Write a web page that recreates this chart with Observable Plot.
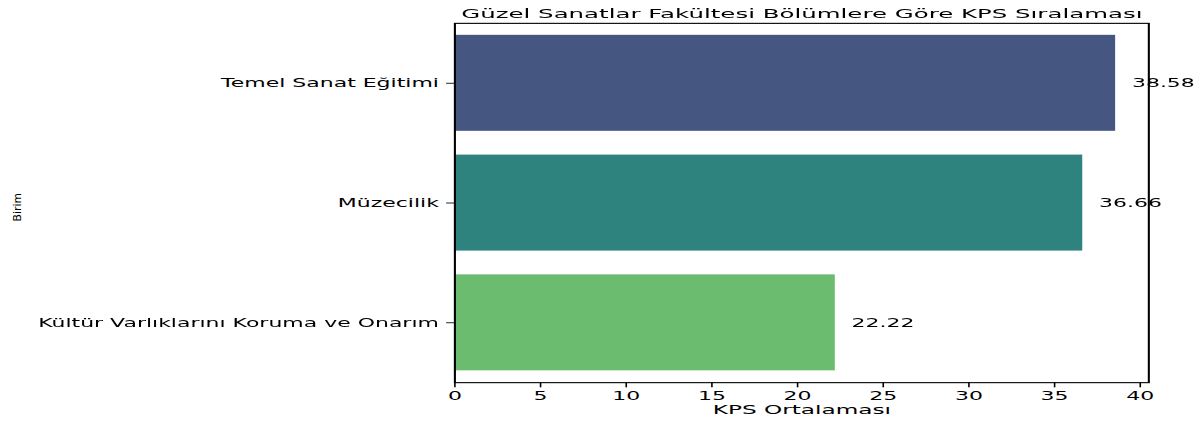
<!DOCTYPE html>
<html><head><meta charset="utf-8">
<script src="https://cdn.jsdelivr.net/npm/d3@7"></script>
<script src="https://cdn.jsdelivr.net/npm/@observablehq/plot@0.6"></script>
<style>
html,body{margin:0;padding:0;background:#fff;overflow:hidden}
#chart{width:748px;height:498px;transform:scale(1.59893,0.84940);transform-origin:0 0}
</style></head><body><div id="chart"></div>
<script>
const units = ["Temel Sanat Eğitimi", "Müzecilik", "Kültür Varlıklarını Koruma ve Onarım"];
const kpsValues = [38.58, 36.66, 22.22];
const barColors = ["#455681", "#2f837f", "#6bbc6e"];
const xTicks = [0, 5, 10, 15, 20, 25, 30, 35, 40];
const title = "Güzel Sanatlar Fakültesi Bölümlere Göre KPS Sıralaması";
const xLabel = "KPS Ortalaması";
const yLabel = "Birim";

const SX = 1.59893, SY = 0.84940;
const data = units.map((u, i) => ({unit: u, value: kpsValues[i], label: kpsValues[i].toFixed(2)}));

const chart = Plot.plot({
  width: 748, height: 498,
  marginTop: 27, marginBottom: 48, marginLeft: 284, marginRight: 30,
  style: {fontFamily: "'DejaVu Sans', sans-serif", fontSize: "13.75px", color: "#000", background: "#fff", overflow: "visible"},
  x: {domain: [0, 40.5], ticks: xTicks, tickSize: 6, tickPadding: 4.5, label: null},
  y: {domain: units, paddingInner: 0.2, paddingOuter: 0.1, tickSize: 5, tickPadding: 5, label: null},
  color: {domain: units, range: barColors},
  marks: [
    Plot.barX(data, {x: "value", y: "unit", fill: "unit"}),
    Plot.text(data, {x: "value", y: "unit", text: "label", dx: 10, textAnchor: "start", fontSize: 13.75}),
    Plot.frame({stroke: "#000", strokeWidth: 1.3}),
    Plot.text([title], {frameAnchor: "top", dy: -10.8, lineAnchor: "middle", fontSize: 15.3}),
    Plot.text([yLabel], {frameAnchor: "left", textAnchor: "middle", rotate: -90, dx: -273.6, dy: 5, fontSize: 10.8}),
    Plot.text([xLabel], {frameAnchor: "bottom", dy: 37, fontSize: 14.5})
  ]
});
// the y label in the reference is not stretched: undo the page stretch for it
chart.querySelectorAll("text").forEach(t => {
  if (t.textContent === yLabel) {
    const tr = t.getAttribute("transform") || "";
    t.setAttribute("transform", tr + ` scale(${1 / SY}, ${1 / SX})`);
  }
});
document.getElementById("chart").appendChild(chart);
</script>
</body></html>
